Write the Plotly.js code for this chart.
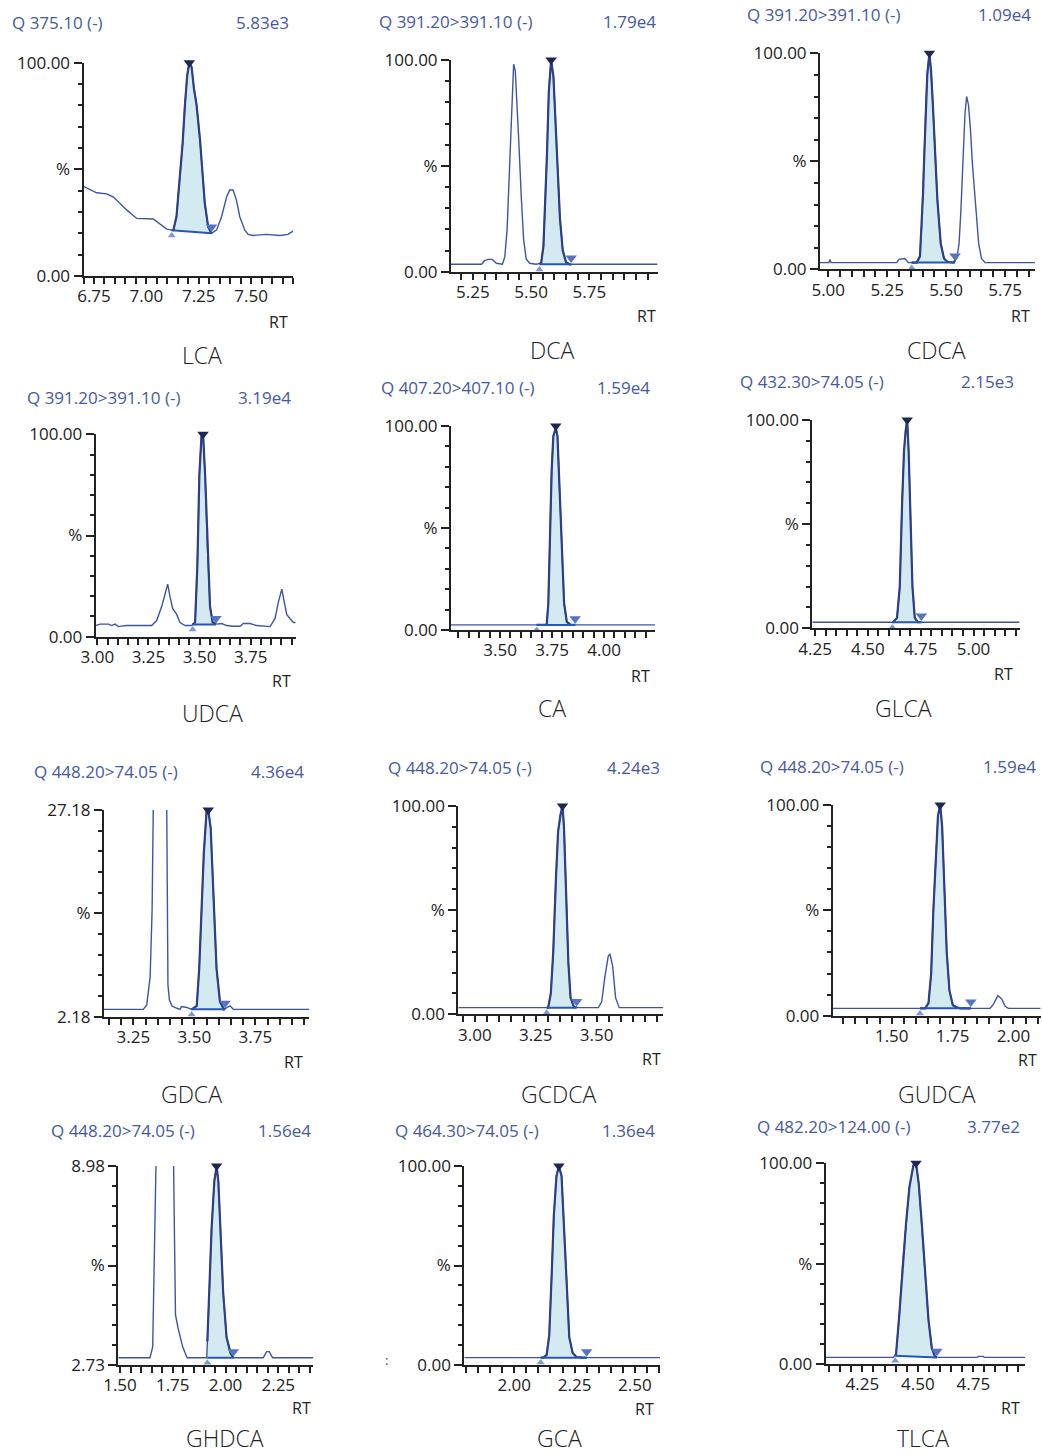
<!DOCTYPE html>
<html><head><meta charset="utf-8">
<script src="https://cdn.plot.ly/plotly-3.0.1.min.js"></script>
<style>body{margin:0;background:#fff}#chart{width:1042px;height:1454px}</style>
</head><body><div id="chart"></div>
<script>
// ---------------- DATA ----------------
const compounds = ["LCA","DCA","CDCA","UDCA","CA","GLCA","GDCA","GCDCA","GUDCA","GHDCA","GCA","TLCA"];
const transitions = ["Q 375.10 (-)","Q 391.20>391.10 (-)","Q 391.20>391.10 (-)","Q 391.20>391.10 (-)",
  "Q 407.20>407.10 (-)","Q 432.30>74.05 (-)","Q 448.20>74.05 (-)","Q 448.20>74.05 (-)",
  "Q 448.20>74.05 (-)","Q 448.20>74.05 (-)","Q 464.30>74.05 (-)","Q 482.20>124.00 (-)"];
const maxIntensity = ["5.83e3","1.79e4","1.09e4","3.19e4","1.59e4","2.15e3","4.36e4","4.24e3","1.59e4","1.56e4","1.36e4","3.77e2"];

// retention time (min) and relative intensity (%)
const lcaRT  = [6.700,6.763,6.811,6.843,6.906,6.954,7.033,7.097,7.121,7.129,7.144,7.160,7.173,7.184,7.195,7.205,7.216,7.227,7.240,7.256,7.268,7.279,7.295,7.311,7.335,7.359,7.383,7.398,7.414,7.430,7.446,7.470,7.486,7.510,7.573,7.637,7.676,7.700];
const lcaPct = [42,39,38.5,37,31,27,26.7,22,21.5,21.5,28,45,62,80,94,100,98,88,80,64,46,34,23,20,21.5,27.8,37,40.3,40.3,35.6,27.8,21.5,19.5,19,19.5,19,19.5,21];

const dcaRT  = [5.156,5.287,5.300,5.316,5.333,5.351,5.377,5.387,5.397,5.404,5.410,5.418,5.425,5.432,5.440,5.447,5.458,5.468,5.479,5.494,5.522,5.543,5.553,5.560,5.568,5.576,5.586,5.596,5.603,5.610,5.624,5.636,5.650,5.665,6.042];
const dcaPct = [3.5,3.5,5.2,5.8,5.8,4,3.5,7,20,40,58,80,98,95,80,62,35,15,6,4,3.5,4,12,30,55,85,100,92,75,55,25,10,4.5,3.5,3.5];

const cdcaRT  = [4.965,5.003,5.007,5.012,5.290,5.300,5.325,5.340,5.375,5.389,5.396,5.402,5.408,5.414,5.420,5.429,5.436,5.443,5.452,5.463,5.477,5.491,5.505,5.531,5.545,5.555,5.563,5.573,5.580,5.587,5.595,5.603,5.612,5.625,5.638,5.650,5.665,5.877];
const cdcaPct = [3.1,3.1,4.5,3.1,3.1,4.6,5,3.1,3.1,6,20,35,55,75,90,100,92,78,60,32,12,5,3.5,3.1,5,12,28,50,72,80,76,65,48,30,12,5,3.1,3.1];

const udcaRT  = [2.992,3.013,3.054,3.070,3.086,3.103,3.119,3.143,3.176,3.225,3.266,3.290,3.315,3.331,3.344,3.355,3.368,3.388,3.404,3.429,3.461,3.478,3.489,3.499,3.509,3.517,3.527,3.538,3.551,3.564,3.584,3.608,3.633,3.665,3.698,3.714,3.747,3.779,3.828,3.845,3.869,3.885,3.902,3.913,3.926,3.942,3.959,3.970];
const udcaPct = [5.5,6.2,6.2,5.5,6.2,5,5.2,5.5,5.5,5.5,5.5,8,15,21,26,20,14,11,7,5.5,5.5,7,35,80,99,100,80,45,15,7,6.2,6.5,5.5,5.2,5.2,6.5,6.5,5.5,5.2,5,9,17,23.5,18,11,9,7,7];

const caRT  = [3.264,3.716,3.724,3.732,3.740,3.748,3.756,3.768,3.776,3.785,3.796,3.808,3.821,3.840,4.245];
const caPct = [2.5,2.5,2.5,13,45.8,78,95,99,95,70,37.6,13,4,2.5,2.5];

const glcaRT  = [4.237,4.619,4.638,4.651,4.662,4.671,4.679,4.686,4.693,4.701,4.711,4.722,4.737,5.217];
const glcaPct = [2.9,2.9,5,20,60,85,95,100,85,55,20,5,2.9,2.9];

const gdcaRT  = [3.130,3.291,3.305,3.319,3.327,3.331,3.345,3.360,3.375,3.387,3.392,3.398,3.408,3.420,3.441,3.448,3.469,3.489,3.510,3.520,3.530,3.539,3.550,3.557,3.567,3.578,3.591,3.605,3.621,3.646,3.660,3.971];
const gdcaPct = [3.07,3.07,3.6,7,15,27.5,80,100,80,27.5,6,4.2,3.5,3.3,3.07,3.4,3.3,3.07,3.5,8,15,22,27,27.18,25,17,8,4,3.07,3.5,3.07,3.07];

const gcdcaRT  = [2.932,3.301,3.312,3.322,3.333,3.342,3.352,3.360,3.366,3.374,3.384,3.393,3.407,3.425,3.507,3.521,3.534,3.548,3.555,3.566,3.578,3.593,3.774];
const gcdcaPct = [3.2,3.2,10,30,65,88,96,100,90,60,25,8,3.5,3.2,3.2,6,18,28,29,23,8,3.2,3.2];

const gudcaRT  = [1.258,1.637,1.651,1.662,1.671,1.682,1.690,1.699,1.707,1.715,1.726,1.737,1.751,1.767,1.781,1.904,1.918,1.936,1.952,1.966,1.979,2.112];
const gudcaPct = [3.5,3.5,6,20,50,80,95,100,90,65,30,12,5,4,3.5,3.5,5.5,9.5,8,4.5,3.5,3.5];

const ghdcaRT  = [1.492,1.642,1.655,1.661,1.671,1.690,1.710,1.735,1.753,1.763,1.775,1.787,1.797,1.818,1.911,1.923,1.934,1.947,1.958,1.966,1.977,1.989,2.005,2.024,2.037,2.179,2.195,2.207,2.223,2.416];
const ghdcaPct = [2.96,2.96,3.3,6,9.2,60,100,60,9.5,4.3,3.9,3.6,3.3,2.96,2.96,5,7,8.5,8.98,8.5,7,5,3.6,3.1,2.96,2.96,3.15,3.15,2.96,2.96];

const gcaRT  = [1.793,2.120,2.134,2.145,2.155,2.164,2.175,2.185,2.196,2.206,2.217,2.228,2.242,2.258,2.286,2.604];
const gcaPct = [3.7,3.7,5,15,45,75,95,100,95,70,35,14,6,4,3.7,3.7];

const tlcaRT  = [4.084,4.390,4.402,4.417,4.432,4.447,4.462,4.480,4.492,4.504,4.518,4.533,4.548,4.563,4.578,4.593,4.767,4.774,4.794,4.800,4.983];
const tlcaPct = [3.3,3.3,5,25,50,70,88,99,100,90,70,45,22,8,3.5,3.3,3.3,3.8,3.8,3.3,3.3];

const seriesRT  = [lcaRT,dcaRT,cdcaRT,udcaRT,caRT,glcaRT,gdcaRT,gcdcaRT,gudcaRT,ghdcaRT,gcaRT,tlcaRT];
const seriesPct = [lcaPct,dcaPct,cdcaPct,udcaPct,caPct,glcaPct,gdcaPct,gcdcaPct,gudcaPct,ghdcaPct,gcaPct,tlcaPct];

// integration window (min) and baseline level (%) at its ends
const peakStart = [7.121,5.536,5.354,3.466,3.676,4.616,3.489,3.295,1.616,1.914,2.110,4.398];
const peakEnd   = [7.311,5.672,5.538,3.580,3.861,4.753,3.626,3.418,1.825,2.037,2.300,4.586];
const baseStart = [21.5,3.5,3.1,6.0,2.5,2.9,3.07,3.2,3.5,2.96,3.7,4.1];
const baseEnd   = [20.0,3.5,3.1,6.0,2.5,2.9,3.07,3.2,3.5,2.96,3.7,3.3];

// axis scales and tick labels
const yMin = [0,0,0,0,0,0,2.18,0,0,2.73,0,0];
const yMax = [100,100,100,100,100,100,27.18,100,100,8.98,100,100];
const xRanges = [[6.70,7.70],[5.156,6.045],[4.965,5.877],[2.992,3.970],[3.264,4.245],[4.237,5.220],
                 [3.130,3.971],[2.932,3.774],[1.2575,2.112],[1.492,2.416],[1.793,2.604],[4.085,4.983]];
const xTicks = [[6.75,7.00,7.25,7.50],[5.25,5.50,5.75],[5.00,5.25,5.50,5.75],[3.00,3.25,3.50,3.75],
                [3.50,3.75,4.00],[4.25,4.50,4.75,5.00],[3.25,3.50,3.75],[3.00,3.25,3.50],
                [1.50,1.75,2.00],[1.50,1.75,2.00,2.25],[2.00,2.25,2.50],[4.25,4.50,4.75]];

// ---------------- LAYOUT (pixels in a 1042 x 1454 page) ----------------
const W = 1042, H = 1454;
const boxes = [[83.5,293,62.7,276],[451,658,60,271.7],[820,1035,53.3,269.3],
  [95.7,295.7,434.3,636.7],[451,655,426,630],[812.3,1020,420,628.3],
  [104,309.3,810,1016.7],[458.3,663.3,806,1014.3],[832.7,1040.7,805,1015.7],
  [118.3,313.3,1166,1365],[464.3,660,1166,1365],[825.7,1025,1163.3,1364]];
const headerPos = [[10,291,23],[377,658,21],[745,1033,14],[25,293,398],[379,652,388],[738,1016,381.7],
  [31.7,306,771.7],[386,661.7,768],[758.3,1038.3,766.7],[49.3,313.3,1130],[392.7,657.3,1130],[755,1021.7,1126.7]];
const rtPos = [[290,322.5],[658,316],[1031.7,316],[293.3,681],[651.7,676],[1015,674],
  [305,1061.5],[662.7,1059],[1039,1060],[313,1407.5],[656,1408.5],[1021.7,1407.5]];
const namePos = [[202,355],[552,350],[936,350],[212,713],[552,708],[903,708],
  [191,1094],[558,1094],[937,1094],[225,1438],[559,1438],[923,1438]];

const FONT = "Open Sans, Noto Sans, sans-serif";
const BLUE_TXT = "#4659a3";
const INK = "#222222";

function interp(xs, ys, x) {
  for (let i = 0; i < xs.length - 1; i++) {
    if (x >= xs[i] && x <= xs[i+1]) {
      const t = (x - xs[i]) / (xs[i+1] - xs[i]);
      return ys[i] + t * (ys[i+1] - ys[i]);
    }
  }
  return ys[ys.length-1];
}
const px = v => v / W, py = v => 1 - v / H;

const traces = [];
const layout = {
  width: W, height: H, margin: {l:0,r:0,t:0,b:0},
  paper_bgcolor: "#ffffff", plot_bgcolor: "rgba(0,0,0,0)",
  showlegend: false, annotations: [], font: {family: FONT, color: INK}
};

for (let i = 0; i < 12; i++) {
  const suf = i === 0 ? "" : String(i+1);
  const xa = "x" + suf, ya = "y" + suf;
  const rt = seriesRT[i], pct = seriesPct[i];
  const s = peakStart[i], e = peakEnd[i];
  const yr = yMax[i] - yMin[i];

  const wx = [s], wy = [interp(rt, pct, s)];
  for (let k = 0; k < rt.length; k++) if (rt[k] > s && rt[k] < e) { wx.push(rt[k]); wy.push(pct[k]); }
  wx.push(e); wy.push(interp(rt, pct, e));
  const fx = wx.concat([e, s, s]), fy = wy.concat([baseEnd[i], baseStart[i], wy[0]]);
  traces.push({x: fx, y: fy, xaxis: xa, yaxis: ya, mode: "lines", fill: "toself",
    fillcolor: "#d4eaf1", line: {width: 0, color: "rgba(0,0,0,0)"}, hoverinfo: "skip"});
  traces.push({x: rt, y: pct, xaxis: xa, yaxis: ya, mode: "lines",
    line: {color: "#3f55a3", width: 1.4}, hoverinfo: "skip"});
  traces.push({x: wx, y: wy, xaxis: xa, yaxis: ya, mode: "lines",
    line: {color: "#2e3f87", width: 2.2}, hoverinfo: "skip"});
  traces.push({x: [s, e], y: [baseStart[i], baseEnd[i]], xaxis: xa, yaxis: ya, mode: "lines",
    line: {color: "#2458b8", width: 2}, hoverinfo: "skip"});
  let mi = 0; for (let k = 1; k < wy.length; k++) if (wy[k] > wy[mi]) mi = k;
  traces.push({x: [wx[mi]], y: [Math.min(wy[mi] + 0.028*yr, yMax[i])], xaxis: xa, yaxis: ya, mode: "markers", cliponaxis: false,
    marker: {symbol: "triangle-down", size: 10, color: "#1e2654", line: {width: 0}}, hoverinfo: "skip"});
  traces.push({x: [s], y: [baseStart[i] - 0.025*yr], xaxis: xa, yaxis: ya, mode: "markers", cliponaxis: false,
    marker: {symbol: "triangle-up", size: 7, color: "#7d98d6"}, hoverinfo: "skip"});
  traces.push({x: [e], y: [baseEnd[i] + 0.03*yr], xaxis: xa, yaxis: ya, mode: "markers", cliponaxis: false,
    marker: {symbol: "triangle-down", size: 10, color: "#5574c6"}, hoverinfo: "skip"});

  const b = boxes[i];
  const mid = (yMin[i] + yMax[i]) / 2;
  const fmt = v => v.toFixed(2);
  layout["xaxis" + suf] = {
    domain: [px(b[0]), px(b[1])], anchor: ya, range: xRanges[i],
    showline: true, linecolor: INK, linewidth: 2, mirror: false,
    ticks: "outside", ticklen: 6, tickwidth: 2, tickcolor: INK,
    tickmode: "array", tickvals: xTicks[i], ticktext: xTicks[i].map(fmt),
    tickfont: {family: FONT, size: 17, color: INK}, ticklabelstandoff: -2,
    minor: {ticks: "outside", dtick: 0.05, tick0: 0, ticklen: 6, tickwidth: 2, tickcolor: INK, showgrid: false},
    showgrid: false, zeroline: false, fixedrange: true
  };
  layout["yaxis" + suf] = {
    domain: [py(b[3]), py(b[2])], anchor: xa, range: [yMin[i], yMax[i]],
    showline: true, linecolor: INK, linewidth: 2,
    ticks: "outside", ticklen: 8, tickwidth: 2, tickcolor: INK,
    tickmode: "array", tickvals: [yMin[i], mid, yMax[i]], ticktext: [fmt(yMin[i]), "%", fmt(yMax[i])],
    tickfont: {family: FONT, size: 17, color: INK},
    minor: {ticks: "outside", dtick: yr/10, tick0: yMin[i], ticklen: 4, tickwidth: 2, tickcolor: INK, showgrid: false},
    showgrid: false, zeroline: false, fixedrange: true
  };

  const hp = headerPos[i];
  layout.annotations.push({xref:"paper", yref:"paper", x: px(hp[0]), y: py(hp[2]), xanchor:"left", yanchor:"middle",
    text: transitions[i], showarrow:false, font:{family:FONT, size:17, color:BLUE_TXT}});
  layout.annotations.push({xref:"paper", yref:"paper", x: px(hp[1]), y: py(hp[2]), xanchor:"right", yanchor:"middle",
    text: maxIntensity[i], showarrow:false, font:{family:FONT, size:17, color:BLUE_TXT}});
  const rp = rtPos[i];
  layout.annotations.push({xref:"paper", yref:"paper", x: px(rp[0]), y: py(rp[1]), xanchor:"right", yanchor:"middle",
    text: "RT", showarrow:false, font:{family:FONT, size:16, color:INK}});
  const np = namePos[i];
  layout.annotations.push({xref:"paper", yref:"paper", x: px(np[0]), y: py(np[1]), xanchor:"center", yanchor:"middle",
    text: compounds[i], showarrow:false, font:{family:FONT, size:23, weight:300, color:INK}});
}
layout.annotations.push({xref:"paper", yref:"paper", x: px(386), y: py(1360), xanchor:"center", yanchor:"middle",
  text: ":", showarrow:false, font:{family:FONT, size:13, color:"#2e3f87"}});

Plotly.newPlot("chart", traces, layout, {staticPlot: true, displayModeBar: false});
</script></body></html>
